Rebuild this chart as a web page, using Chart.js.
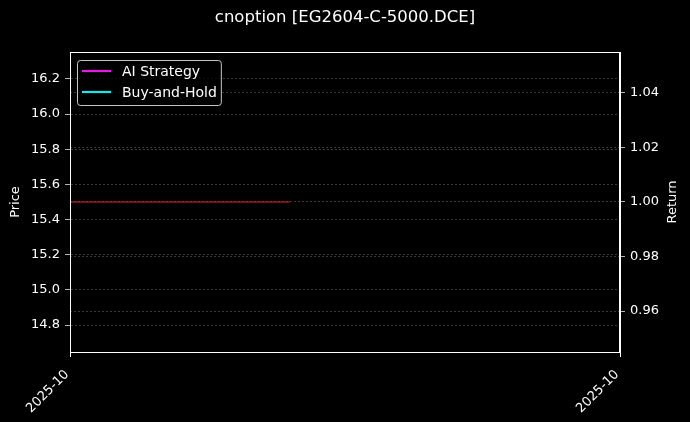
<!DOCTYPE html>
<html>
<head>
<meta charset="utf-8">
<script src="https://cdn.jsdelivr.net/npm/chart.js@4/dist/chart.umd.min.js"></script>
<style>
  html, body { margin: 0; padding: 0; background: #000; }
  #wrap { width: 690px; height: 422px; }
</style>
</head>
<body>
<div id="wrap"><canvas id="chart" width="690" height="422"></canvas></div>
<script>
// Chart data
const chartTitle = 'cnoption [EG2604-C-5000.DCE]';
const priceX = [0, 4];
const priceValues = [15.5, 15.5];
const aiStrategy = [];
const buyAndHold = [];
const xRange = [0, 10];
const xTickValues = [0, 10];
const xTickLabels = ['2025-10', '2025-10'];
const priceRange = [14.647, 16.353];
const priceTicks = [14.8, 15.0, 15.2, 15.4, 15.6, 15.8, 16.0, 16.2];
const returnRange = [0.945, 1.055];
const returnTicks = [0.96, 0.98, 1.00, 1.02, 1.04];

const FONT = 'DejaVu Sans';
const gridColor = 'rgba(150,150,150,0.55)';

// title and axis titles (Return reads bottom to top, like the left one)
const textPlugin = {
    id: 'textPlugin',
    afterDraw(chart) {
        const ctx = chart.ctx;
        const a = chart.chartArea;
        const midY = (a.top + a.bottom) / 2;
        ctx.save();
        ctx.fillStyle = '#fff';
        ctx.textAlign = 'center';
        ctx.textBaseline = 'middle';
        ctx.font = `16.5px "${FONT}"`;
        ctx.fillText(chartTitle, (a.left + a.right) / 2, 18);
        ctx.font = `13px "${FONT}"`;
        [['Price', 16], ['Return', 673]].forEach(([t, x]) => {
            ctx.save();
            ctx.translate(x, midY);
            ctx.rotate(-Math.PI / 2);
            ctx.fillText(t, 0, 0);
            ctx.restore();
        });
        ctx.restore();
    }
};

// frame round the plot area
const framePlugin = {
    id: 'framePlugin',
    afterDraw(chart) {
        const ctx = chart.ctx;
        const a = chart.chartArea;
        ctx.save();
        ctx.strokeStyle = '#fff';
        ctx.lineWidth = 1;
        ctx.strokeRect(Math.round(a.left) + 0.5, Math.round(a.top) + 0.5,
            Math.round(a.right - a.left) - 1, Math.round(a.bottom - a.top));
        ctx.restore();
    }
};

// legend box in the upper left of the plot
const legendPlugin = {
    id: 'legendPlugin',
    afterDraw(chart) {
        const ctx = chart.ctx;
        const a = chart.chartArea;
        const items = chart.data.datasets.filter(d => d.inLegend);
        const x0 = a.left + 7, y0 = a.top + 8;
        ctx.save();
        ctx.font = `14px "${FONT}"`;
        let w = 0;
        items.forEach(d => { w = Math.max(w, ctx.measureText(d.label).width); });
        const boxW = 45 + w + 4, boxH = 45;
        ctx.fillStyle = 'rgba(0,0,0,0.8)';
        ctx.strokeStyle = 'rgba(220,220,220,0.9)';
        ctx.lineWidth = 1;
        ctx.beginPath();
        ctx.roundRect(x0 + 0.5, y0 + 0.5, boxW, boxH, 3);
        ctx.fill();
        ctx.stroke();
        items.forEach((d, i) => {
            const y = y0 + 11 + i * 21;
            ctx.strokeStyle = d.borderColor;
            ctx.lineWidth = 2.2;
            ctx.beginPath();
            ctx.moveTo(x0 + 5, y);
            ctx.lineTo(x0 + 34, y);
            ctx.stroke();
            ctx.fillStyle = '#fff';
            ctx.textAlign = 'left';
            ctx.textBaseline = 'middle';
            ctx.fillText(d.label, x0 + 45, y + 1);
        });
        ctx.restore();
    }
};

const ctx = document.getElementById('chart').getContext('2d');
new Chart(ctx, {
    type: 'line',
    data: {
        datasets: [
            {
                label: 'Price',
                data: priceX.map((x, i) => ({ x: x, y: priceValues[i] })),
                yAxisID: 'y',
                borderColor: '#e8202a',
                borderWidth: 1.2,
                pointRadius: 0,
                tension: 0,
                inLegend: false
            },
            {
                label: 'AI Strategy',
                data: aiStrategy,
                yAxisID: 'y1',
                borderColor: '#e619e6',
                borderWidth: 2,
                pointRadius: 0,
                inLegend: true
            },
            {
                label: 'Buy-and-Hold',
                data: buyAndHold,
                yAxisID: 'y1',
                borderColor: '#19e6e6',
                borderWidth: 2,
                pointRadius: 0,
                inLegend: true
            }
        ]
    },
    options: {
        responsive: false,
        animation: false,
        devicePixelRatio: 1,
        layout: { padding: { top: 52, left: 0, right: 0, bottom: 0 } },
        plugins: {
            legend: { display: false },
            title: { display: false },
            tooltip: { enabled: false }
        },
        scales: {
            x: {
                type: 'linear',
                position: 'bottom',
                min: xRange[0],
                max: xRange[1],
                afterBuildTicks: s => { s.ticks = xTickValues.map(v => ({ value: v })); },
                afterFit: s => { s.height = 70; },
                ticks: {
                    color: '#fff',
                    font: { family: FONT, size: 13 },
                    minRotation: 45,
                    maxRotation: 45,
                    padding: 7,
                    // trailing space nudges the rotated label down-left of the tick
                    callback: (v, i) => xTickLabels[i] + '\u00a0'
                },
                grid: { drawOnChartArea: false, color: '#fff', tickColor: '#fff', tickLength: 5 },
                border: { color: '#fff', width: 1 }
            },
            y: {
                position: 'left',
                min: priceRange[0],
                max: priceRange[1],
                afterBuildTicks: s => { s.ticks = priceTicks.map(v => ({ value: v })); },
                afterFit: s => { s.width = 70; },
                ticks: {
                    color: '#fff',
                    font: { family: FONT, size: 13 },
                    padding: 5,
                    callback: v => Number(v).toFixed(1)
                },
                grid: { color: gridColor, lineWidth: 0.7, tickColor: '#fff', tickLength: 5 },
                border: { color: '#fff', width: 1, dash: [2, 2] }
            },
            y1: {
                position: 'right',
                min: returnRange[0],
                max: returnRange[1],
                afterBuildTicks: s => { s.ticks = returnTicks.map(v => ({ value: v })); },
                afterFit: s => { s.width = 70; },
                ticks: {
                    color: '#fff',
                    font: { family: FONT, size: 13 },
                    padding: 5,
                    callback: v => Number(v).toFixed(2)
                },
                grid: { color: gridColor, lineWidth: 0.7, tickColor: '#fff', tickLength: 5 },
                border: { color: '#fff', width: 1, dash: [2, 2] }
            }
        }
    },
    plugins: [textPlugin, framePlugin, legendPlugin]
});
</script>
</body>
</html>
